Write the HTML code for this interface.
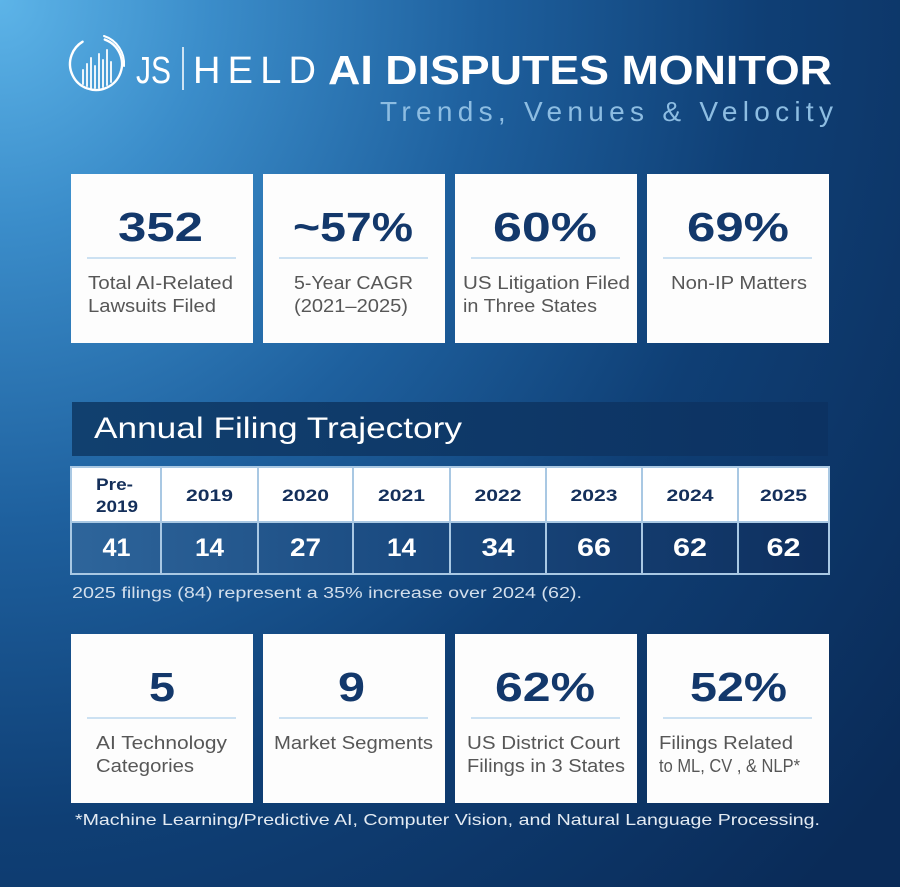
<!DOCTYPE html>
<html>
<head>
<meta charset="utf-8">
<style>
html,body{margin:0;padding:0;width:900px;height:887px;overflow:hidden;background:#0b2f5e;}
svg{display:block;}
text{font-family:"Liberation Sans",Arial,sans-serif;}
</style>
</head>
<body>
<svg width="900" height="887" viewBox="0 0 900 887" xmlns="http://www.w3.org/2000/svg">
<defs>
  <radialGradient id="bg" cx="0" cy="0" r="1150" gradientUnits="userSpaceOnUse" gradientTransform="scale(1,1.08)">
    <stop offset="0" stop-color="#5db4e8"/>
    <stop offset="0.18" stop-color="#3b8dca"/>
    <stop offset="0.42" stop-color="#1e609e"/>
    <stop offset="0.66" stop-color="#0f3f75"/>
    <stop offset="1" stop-color="#0a2b58"/>
  </radialGradient>
  <linearGradient id="band" x1="0" y1="0" x2="1" y2="0">
    <stop offset="0" stop-color="#11406f"/>
    <stop offset="1" stop-color="#0c3262"/>
  </linearGradient>
  <linearGradient id="vals" x1="0" y1="0" x2="1" y2="0">
    <stop offset="0" stop-color="#2e659b"/>
    <stop offset="0.45" stop-color="#1a4a80"/>
    <stop offset="1" stop-color="#0e2f5e"/>
  </linearGradient>
</defs>

<rect x="0" y="0" width="900" height="887" fill="url(#bg)"/>

<!-- Logo -->
<g fill="none" stroke="#ffffff" stroke-linecap="round">
  <circle cx="96" cy="64" r="26" stroke-width="2.4" stroke-dasharray="140 23" transform="rotate(-70 96 64)"/>
  <path d="M 104 36 A 29 29 0 0 1 124 66" stroke-width="2"/>
  <g stroke-width="2" opacity="0.9">
    <line x1="83" y1="84" x2="83" y2="70"/>
    <line x1="87" y1="86" x2="87" y2="64"/>
    <line x1="91" y1="88" x2="91" y2="58"/>
    <line x1="95" y1="88" x2="95" y2="66"/>
    <line x1="99" y1="88" x2="99" y2="54"/>
    <line x1="103" y1="87" x2="103" y2="60"/>
    <line x1="107" y1="85" x2="107" y2="50"/>
    <line x1="111" y1="82" x2="111" y2="62"/>
  </g>
</g>

<!-- Header text -->
<text x="136" y="83" font-size="38" fill="#ffffff" textLength="35" lengthAdjust="spacingAndGlyphs">JS</text>
<line x1="183" y1="47" x2="183" y2="90" stroke="#ffffff" stroke-width="1.5"/>
<text x="193" y="83" font-size="38" fill="#ffffff" textLength="123" lengthAdjust="spacing">HELD</text>
<text x="328" y="84" font-size="41" font-weight="bold" fill="#ffffff" textLength="504" lengthAdjust="spacingAndGlyphs">AI DISPUTES MONITOR</text>
<text x="380" y="121" font-size="28" fill="#8dbde2" textLength="453" lengthAdjust="spacing">Trends, Venues &amp; Velocity</text>

<!-- Top cards -->
<g fill="#fdfdfd">
  <rect x="71" y="174" width="182" height="169"/>
  <rect x="263" y="174" width="182" height="169"/>
  <rect x="455" y="174" width="182" height="169"/>
  <rect x="647" y="174" width="182" height="169"/>
</g>
<g font-size="41" font-weight="bold" fill="#13386b" text-anchor="middle">
  <text x="160.5" y="241" textLength="85" lengthAdjust="spacingAndGlyphs">352</text>
  <text x="353" y="241" textLength="120" lengthAdjust="spacingAndGlyphs">~57%</text>
  <text x="545" y="241" textLength="104" lengthAdjust="spacingAndGlyphs">60%</text>
  <text x="738" y="241" textLength="102" lengthAdjust="spacingAndGlyphs">69%</text>
</g>
<g stroke="#bcd8ee" stroke-width="1.6">
  <line x1="87" y1="258" x2="236" y2="258"/>
  <line x1="279" y1="258" x2="428" y2="258"/>
  <line x1="471" y1="258" x2="620" y2="258"/>
  <line x1="663" y1="258" x2="812" y2="258"/>
</g>
<g font-size="18" fill="#575757">
  <text x="88" y="289" textLength="145" lengthAdjust="spacingAndGlyphs">Total AI-Related</text>
  <text x="88" y="312" textLength="128" lengthAdjust="spacingAndGlyphs">Lawsuits Filed</text>
  <text x="294" y="289" textLength="119" lengthAdjust="spacingAndGlyphs">5-Year CAGR</text>
  <text x="294" y="312" textLength="114" lengthAdjust="spacingAndGlyphs">(2021–2025)</text>
  <text x="463" y="289" textLength="167" lengthAdjust="spacingAndGlyphs">US Litigation Filed</text>
  <text x="463" y="312" textLength="134" lengthAdjust="spacingAndGlyphs">in Three States</text>
  <text x="671" y="289" textLength="136" lengthAdjust="spacingAndGlyphs">Non-IP Matters</text>
</g>

<!-- Annual Filing Trajectory band -->
<rect x="72" y="402" width="756" height="54" fill="url(#band)"/>
<text x="94" y="438" font-size="30" fill="#ffffff" textLength="368" lengthAdjust="spacingAndGlyphs">Annual Filing Trajectory</text>

<!-- Table -->
<rect x="71" y="467" width="758" height="55" fill="#ffffff"/>
<rect x="71" y="522" width="758" height="52" fill="url(#vals)"/>
<g stroke="#a9c8e3" stroke-width="2" fill="none">
  <rect x="71" y="467" width="758" height="107"/>
  <line x1="71" y1="522" x2="829" y2="522"/>
  <line x1="161" y1="467" x2="161" y2="574"/>
  <line x1="258" y1="467" x2="258" y2="574"/>
  <line x1="353" y1="467" x2="353" y2="574"/>
  <line x1="450" y1="467" x2="450" y2="574"/>
  <line x1="546" y1="467" x2="546" y2="574"/>
  <line x1="642" y1="467" x2="642" y2="574"/>
  <line x1="738" y1="467" x2="738" y2="574"/>
</g>
<g font-size="17" font-weight="bold" fill="#142f5a">
  <text x="96" y="490" textLength="37" lengthAdjust="spacingAndGlyphs">Pre-</text>
  <text x="96" y="512" textLength="42" lengthAdjust="spacingAndGlyphs">2019</text>
</g>
<g font-size="17" font-weight="bold" fill="#142f5a" text-anchor="middle">
  <text x="209.5" y="501" textLength="47" lengthAdjust="spacingAndGlyphs">2019</text>
  <text x="305.5" y="501" textLength="47" lengthAdjust="spacingAndGlyphs">2020</text>
  <text x="401.5" y="501" textLength="47" lengthAdjust="spacingAndGlyphs">2021</text>
  <text x="498" y="501" textLength="47" lengthAdjust="spacingAndGlyphs">2022</text>
  <text x="594" y="501" textLength="47" lengthAdjust="spacingAndGlyphs">2023</text>
  <text x="690" y="501" textLength="47" lengthAdjust="spacingAndGlyphs">2024</text>
  <text x="783.5" y="501" textLength="47" lengthAdjust="spacingAndGlyphs">2025</text>
</g>
<g font-size="25" font-weight="bold" fill="#ffffff" text-anchor="middle">
  <text x="116.5" y="556" textLength="28" lengthAdjust="spacingAndGlyphs">41</text>
  <text x="209.5" y="556" textLength="29" lengthAdjust="spacingAndGlyphs">14</text>
  <text x="305.5" y="556" textLength="31" lengthAdjust="spacingAndGlyphs">27</text>
  <text x="401.5" y="556" textLength="29" lengthAdjust="spacingAndGlyphs">14</text>
  <text x="498" y="556" textLength="33" lengthAdjust="spacingAndGlyphs">34</text>
  <text x="594" y="556" textLength="34" lengthAdjust="spacingAndGlyphs">66</text>
  <text x="690" y="556" textLength="34" lengthAdjust="spacingAndGlyphs">62</text>
  <text x="783.5" y="556" textLength="34" lengthAdjust="spacingAndGlyphs">62</text>
</g>
<text x="72" y="598" font-size="15.5" fill="#d3dfec" textLength="510" lengthAdjust="spacingAndGlyphs">2025 filings (84) represent a 35% increase over 2024 (62).</text>

<!-- Bottom cards -->
<g fill="#fdfdfd">
  <rect x="71" y="634" width="182" height="169"/>
  <rect x="263" y="634" width="182" height="169"/>
  <rect x="455" y="634" width="182" height="169"/>
  <rect x="647" y="634" width="182" height="169"/>
</g>
<g font-size="41" font-weight="bold" fill="#13386b" text-anchor="middle">
  <text x="162" y="701" textLength="26" lengthAdjust="spacingAndGlyphs">5</text>
  <text x="351.5" y="701" textLength="27" lengthAdjust="spacingAndGlyphs">9</text>
  <text x="545" y="701" textLength="100" lengthAdjust="spacingAndGlyphs">62%</text>
  <text x="738.5" y="701" textLength="97" lengthAdjust="spacingAndGlyphs">52%</text>
</g>
<g stroke="#bcd8ee" stroke-width="1.6">
  <line x1="87" y1="718" x2="236" y2="718"/>
  <line x1="279" y1="718" x2="428" y2="718"/>
  <line x1="471" y1="718" x2="620" y2="718"/>
  <line x1="663" y1="718" x2="812" y2="718"/>
</g>
<g font-size="18" fill="#575757">
  <text x="96" y="749" textLength="131" lengthAdjust="spacingAndGlyphs">AI Technology</text>
  <text x="96" y="772" textLength="98" lengthAdjust="spacingAndGlyphs">Categories</text>
  <text x="274" y="749" textLength="159" lengthAdjust="spacingAndGlyphs">Market Segments</text>
  <text x="467" y="749" textLength="153" lengthAdjust="spacingAndGlyphs">US District Court</text>
  <text x="467" y="772" textLength="158" lengthAdjust="spacingAndGlyphs">Filings in 3 States</text>
  <text x="659" y="749" textLength="134" lengthAdjust="spacingAndGlyphs">Filings Related</text>
  <text x="659" y="772" textLength="141" lengthAdjust="spacingAndGlyphs">to ML, CV , &amp; NLP*</text>
</g>

<text x="75" y="825" font-size="16" fill="#e4ebf3" textLength="745" lengthAdjust="spacingAndGlyphs">*Machine Learning/Predictive AI, Computer Vision, and Natural Language Processing.</text>
</svg>
</body>
</html>
